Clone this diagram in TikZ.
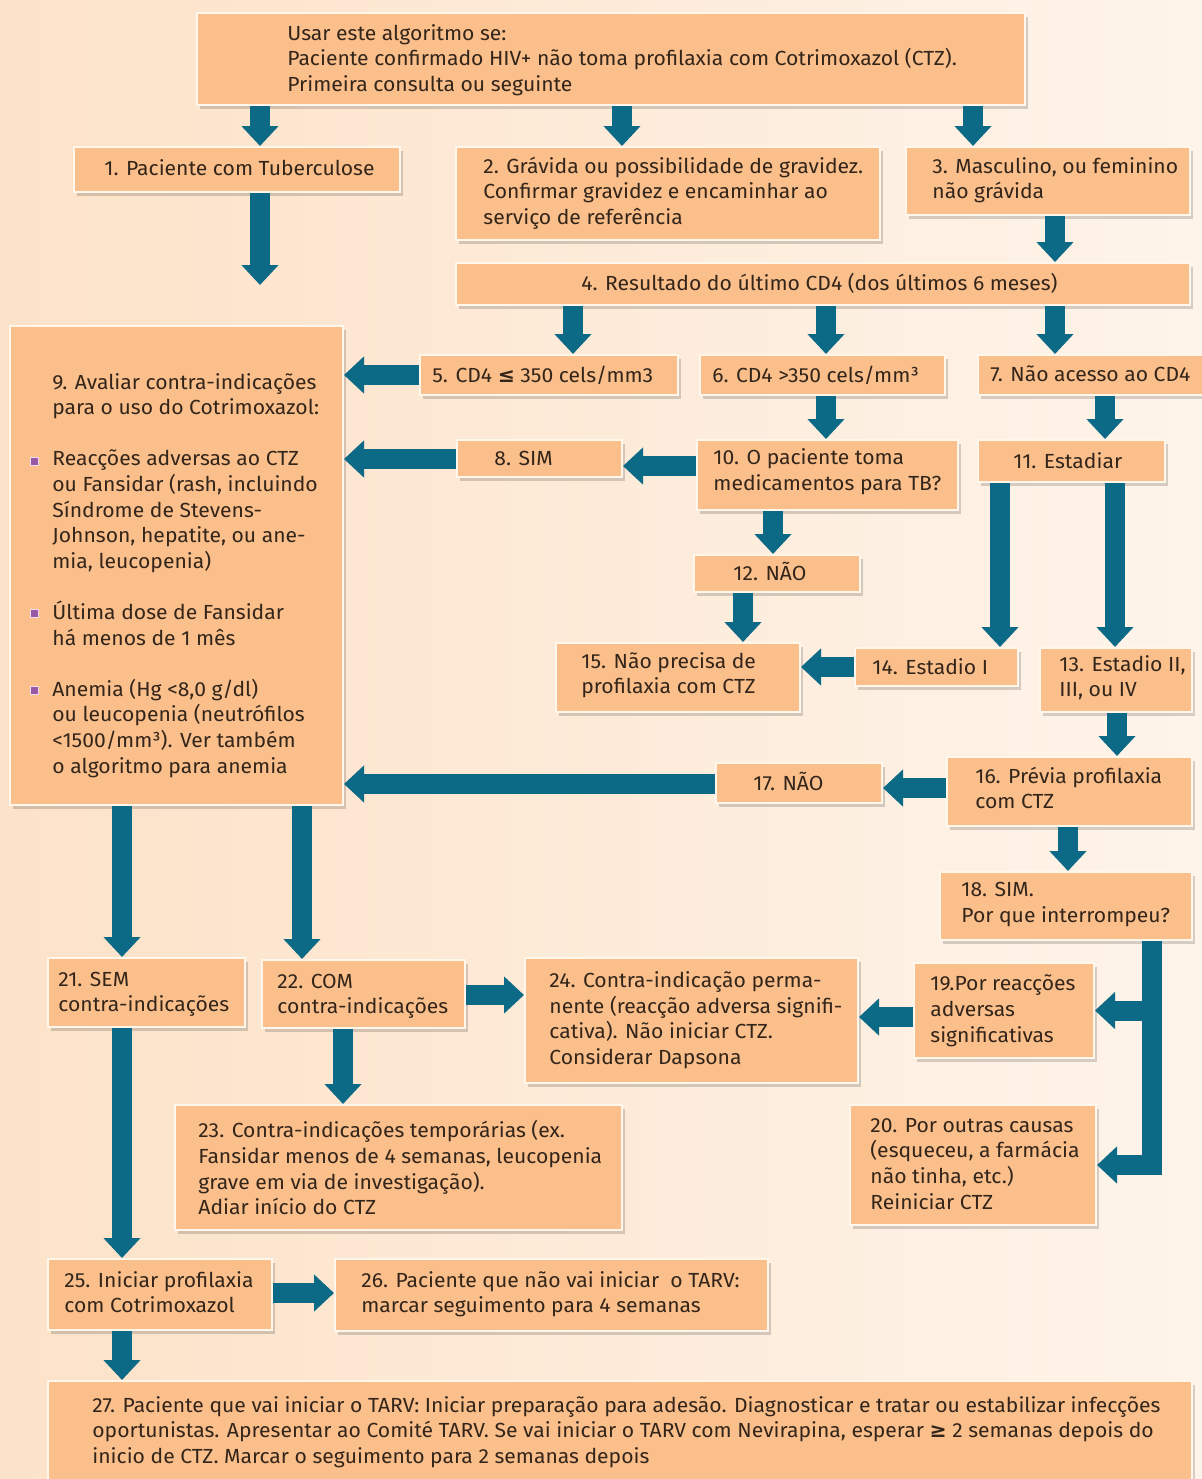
\documentclass[tikz,border=0pt]{standalone}
\usepackage{fontspec}
\setmainfont{Fira Sans}[FakeStretch=1.035]
\newfontfamily\symf{DejaVu Sans}
\usetikzlibrary{arrows.meta,fit,shadows}
\definecolor{bgL}{HTML}{FCE2C8}
\definecolor{bgR}{HTML}{FEF4EA}
\definecolor{boxfill}{HTML}{FABF8B}
\definecolor{boxline}{HTML}{FFF6EC}
\definecolor{teal}{HTML}{0D6A87}
\definecolor{bulc}{HTML}{9A5AA6}
\definecolor{txtc}{HTML}{33251A}
\newcommand\bx[5]{\node[box, fit={(#2,#3)(#4,#5)}] (#1) {};}
\newcommand\tx[4]{\node[txt] (#1) at (#2,#3) {#4};}
\newcommand\leqs{{\symf\bfseries ≤}}
\newcommand\geqs{{\symf\bfseries ≥}}
\begin{document}
\begin{tikzpicture}[x=0.5pt,y=-0.5pt,
  box/.style={draw=boxline, line width=1pt, fill=boxfill, inner sep=0pt,
    drop shadow={shadow xshift=1.5pt, shadow yshift=-1.8pt, opacity=0.16, fill=black}},
  txt/.style={anchor=west, align=left, inner sep=0pt, text=txtc, yshift=-1pt,
    font=\fontsize{10.2}{12.8}\selectfont,
    execute at begin node=\strut, execute at end node=\strut},
  arr/.style={draw=teal, line width=10pt, line cap=butt, line join=miter,
    -{Triangle[width=18pt,length=10pt]}},
  bul/.style={draw=white!80!bulc, line width=0.4pt, fill=bulc, minimum size=4pt, inner sep=0pt}
]
\useasboundingbox (0,0) rectangle (1202,1479);
\shade[left color=bgL, right color=bgR] (0,0) rectangle (1202,1479);

% boxes
\bx{b0}{197}{13}{1025}{105}
\bx{b1}{74}{147}{400}{192}
\bx{b2}{456}{147}{880}{240}
\bx{b3}{906}{147}{1190}{215}
\bx{b4}{456}{263}{1190}{305}
\bx{b9}{10}{326}{343}{805}
\bx{b5}{420}{355}{678}{395}
\bx{b6}{700}{355}{945}{395}
\bx{b7}{978}{355}{1210}{395}
\bx{b8}{457}{440}{622}{477}
\bx{b10}{697}{440}{958}{510}
\bx{b11}{978}{440}{1165}{482}
\bx{b12}{694}{555}{860}{592}
\bx{b15}{556}{643}{800}{712}
\bx{b14}{855}{648}{1018}{686}
\bx{b13}{1040}{648}{1192}{712}
\bx{b16}{947}{757}{1192}{826}
\bx{b17}{716}{763}{882}{803}
\bx{b18}{940}{872}{1192}{940}
\bx{b21}{48}{958}{245}{1027}
\bx{b22}{262}{960}{465}{1028}
\bx{b24}{525}{958}{858}{1083}
\bx{b19}{914}{963}{1094}{1058}
\bx{b20}{850}{1105}{1096}{1225}
\bx{b23}{175}{1105}{622}{1230}
\bx{b25}{48}{1259}{272}{1330}
\bx{b26}{335}{1259}{768}{1331}
\bx{b27}{48}{1381}{1192}{1490}

% texts
\tx{t0}{287}{59.5}{Usar este algoritmo se:\\Paciente confirmado HIV+ não toma profilaxia com Cotrimoxazol (CTZ).\\Primeira consulta ou seguinte}
\tx{t1}{104}{168}{1. Paciente com Tuberculose}
\tx{t2}{483}{192.5}{2. Grávida ou possibilidade de gravidez.\\Confirmar gravidez e encaminhar ao\\serviço de referência}
\tx{t3}{932}{180}{3. Masculino, ou feminino\\não grávida}
\tx{t4}{581}{283}{4. Resultado do último CD4 (dos últimos 6 meses)}
\tx{t9}{52}{575}{9. Avaliar contra-indicações\\para o uso do Cotrimoxazol:\\[12.8pt]Reacções adversas ao CTZ\\ou Fansidar (rash, incluindo\\Síndrome de Stevens-\\Johnson, hepatite, ou ane-\\mia, leucopenia)\\[12.8pt]Última dose de Fansidar\\há menos de 1 mês\\[12.8pt]Anemia (Hg <8,0 g/dl)\\ou leucopenia (neutrófilos\\<1500/mm³). Ver também\\o algoritmo para anemia}
\tx{t5}{432}{375}{5. CD4 \leqs{} 350 cels/mm3}
\tx{t6}{712}{375}{6. CD4 >350 cels/mm³}
\tx{t7}{990}{374}{7. Não acesso ao CD4}
\tx{t8}{494}{458}{8. SIM}
\tx{t10}{713}{471.5}{10. O paciente toma\\medicamentos para TB?}
\tx{t11}{1013}{461}{11. Estadiar}
\tx{t12}{733}{573}{12. NÃO}
\tx{t15}{581}{675}{15. Não precisa de\\profilaxia com CTZ}
\tx{t14}{872}{667}{14. Estadio I}
\tx{t13}{1059}{678}{13. Estadio II,\\III, ou IV}
\tx{t16}{975}{789.5}{16. Prévia profilaxia\\com CTZ}
\tx{t17}{753}{783}{17. NÃO}
\tx{t18}{961}{904}{18. SIM.\\Por que interrompeu?}
\tx{t21}{58}{993.5}{21. SEM\\contra-indicações}
\tx{t22}{277}{995.5}{22. COM\\contra-indicações}
\tx{t24}{549}{1020}{24. Contra-indicação perma-\\nente (reacção adversa signifi-\\cativa). Não iniciar CTZ.\\Considerar Dapsona}
\tx{t19}{930}{1010.5}{19.Por reacções\\adversas\\significativas}
\tx{t20}{870}{1165.5}{20. Por outras causas\\(esqueceu, a farmácia\\não tinha, etc.)\\Reiniciar CTZ}
\tx{t23}{198}{1169.5}{23. Contra-indicações temporárias (ex.\\Fansidar menos de 4 semanas, leucopenia\\grave em via de investigação).\\Adiar início do CTZ}
\tx{t25}{64}{1294}{25. Iniciar profilaxia\\com Cotrimoxazol}
\tx{t26}{361}{1294}{26. Paciente que não vai iniciar \ o TARV:\\marcar seguimento para 4 semanas}
\tx{t27}{92}{1431.5}{27. Paciente que vai iniciar o TARV: Iniciar preparação para adesão. Diagnosticar e tratar ou estabilizar infecções\\oportunistas. Apresentar ao Comité TARV. Se vai iniciar o TARV com Nevirapina, esperar \geqs{} 2 semanas depois do\\inicio de CTZ. Marcar o seguimento para 2 semanas depois}

% bullets
\node[bul] (bu1) at (34,461) {};
\node[bul] (bu2) at (34,613) {};
\node[bul] (bu3) at (34,690) {};

% connectors
\coordinate (free1) at (260,285);
\draw[arr] (260,0 |- b0.south) -- (260,0 |- b1.north);
\draw[arr] (622,0 |- b0.south) -- (622,0 |- b2.north);
\draw[arr] (973,0 |- b0.south) -- (973,0 |- b3.north);
\draw[arr] (260,0 |- b1.south) -- (free1);
\draw[arr] (1055,0 |- b3.south) -- (1055,0 |- b4.north);
\draw[arr] (573,0 |- b4.south) -- (573,0 |- b5.north);
\draw[arr] (826,0 |- b4.south) -- (826,0 |- b6.north);
\draw[arr] (1055,0 |- b4.south) -- (1055,0 |- b7.north);
\draw[arr] (b5.west |- 0,375) -- (b9.east |- 0,375);
\draw[arr] (826,0 |- b6.south) -- (826,0 |- b10.north);
\draw[arr] (1105,0 |- b7.south) -- (1105,0 |- b11.north);
\draw[arr] (b10.west |- 0,466) -- (b8.east |- 0,466);
\draw[arr] (b8.west |- 0,459) -- (b9.east |- 0,459);
\draw[arr] (773,0 |- b10.south) -- (773,0 |- b12.north);
\draw[arr] (743,0 |- b12.south) -- (743,0 |- b15.north);
\draw[arr] (1000,0 |- b11.south) -- (1000,0 |- b14.north);
\draw[arr] (1115,0 |- b11.south) -- (1115,0 |- b13.north);
\draw[arr] (b14.west |- 0,667) -- (b15.east |- 0,667);
\draw[arr] (1117,0 |- b13.south) -- (1117,0 |- b16.north);
\draw[arr] (b16.west |- 0,788) -- (b17.east |- 0,788);
\draw[arr] (b17.west |- 0,784) -- (b9.east |- 0,784);
\draw[arr] (1068,0 |- b16.south) -- (1068,0 |- b18.north);
\draw[arr] (122,0 |- b9.south) -- (122,0 |- b21.north);
\draw[arr] (302,0 |- b9.south) -- (302,0 |- b22.north);
\draw[arr] (b22.east |- 0,995) -- (b24.west |- 0,995);
\draw[arr] (343,0 |- b22.south) -- (343,0 |- b23.north);
\draw[arr] (1152,0 |- b18.south) -- (1152,0 |- b20.east) -- (b20.east);
\draw[arr] (1157,0 |- b19.east) -- (b19.east);
\draw[arr] (b19.west |- 0,1017) -- (b24.east |- 0,1017);
\draw[arr] (122,0 |- b21.south) -- (122,0 |- b25.north);
\draw[arr] (b25.east |- 0,1293) -- (b26.west |- 0,1293);
\draw[arr] (122,0 |- b25.south) -- (122,0 |- b27.north);
\end{tikzpicture}
\end{document}
